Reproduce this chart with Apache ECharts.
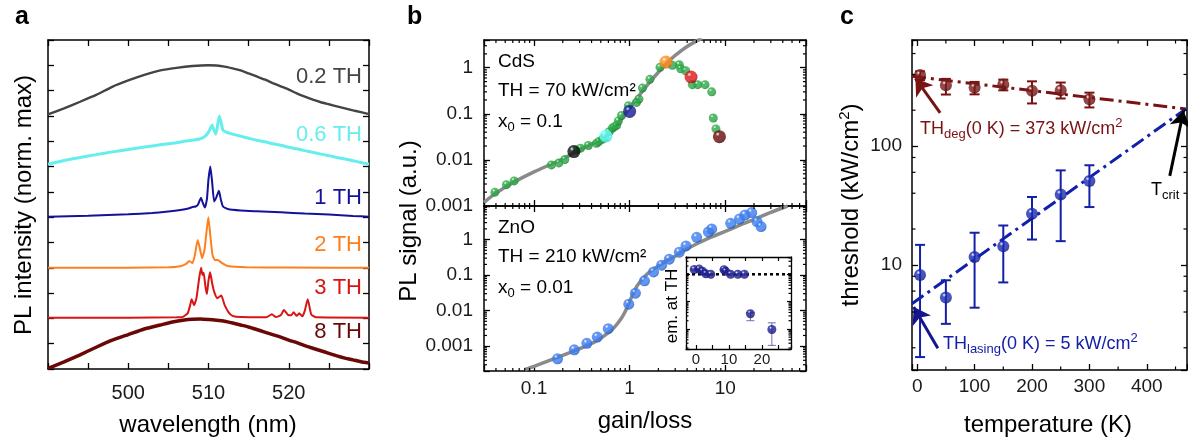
<!DOCTYPE html>
<html><head><meta charset="utf-8">
<script src="https://cdn.jsdelivr.net/npm/echarts@6/dist/echarts.min.js"></script>
<style>html,body{margin:0;padding:0;background:#fff}#c{width:1188px;height:441px}</style>
</head><body><div id="c"></div>
<script>
const FONT = '"Liberation Sans", Arial, Helvetica, sans-serif';

// ---------- Panel a: spectra (wavelength nm, normalized intensity) ----------
const specLabels = ['0.2 TH', '0.6 TH', '1 TH', '2 TH', '3 TH', '8 TH'];
const specOffsets = [5, 4, 3, 2, 1, 0];
const specColors = ['#444444', '#66eeee', '#12129a', '#ff7f1e', '#d81414', '#6a0808'];
const spec02 = [[490,0.03],[492,0.15],[494,0.28],[496,0.415],[498,0.575],[500,0.70],[502,0.81],[504,0.90],[506,0.95],[508,0.985],[510,1.0],[511,0.995],[512,0.975],[513,0.94],[514,0.90],[515,0.84],[516,0.78],[517,0.72],[518,0.65],[519,0.585],[520,0.52],[521,0.445],[522,0.38],[523,0.32],[524,0.27],[525,0.23],[526,0.19],[527,0.15],[528,0.11],[529,0.075],[530,0.035]];
const spec06 = [[490,0.045],[492,0.12],[494,0.18],[496,0.235],[498,0.29],[500,0.335],[502,0.385],[504,0.43],[506,0.47],[507,0.50],[508,0.52],[509,0.55],[509.6,0.60],[510,0.68],[510.3,0.78],[510.45,0.82],[510.6,0.75],[510.9,0.64],[511.1,0.78],[511.35,1.0],[511.55,0.88],[511.8,0.72],[512.2,0.68],[513,0.64],[514,0.60],[515,0.56],[516,0.52],[517,0.49],[518,0.45],[519,0.42],[520,0.38],[521,0.35],[522,0.315],[523,0.28],[524,0.245],[525,0.215],[526,0.18],[527,0.15],[528,0.115],[529,0.08],[530,0.045]];
const spec1 = [[490,0.01],[495,0.03],[500,0.055],[503,0.08],[505,0.11],[506.5,0.14],[507.5,0.17],[508,0.2],[508.4,0.21],[508.7,0.25],[508.9,0.33],[509.07,0.385],[509.25,0.3],[509.55,0.19],[509.8,0.35],[510.0,0.75],[510.23,1.0],[510.45,0.7],[510.7,0.31],[510.95,0.38],[511.3,0.52],[511.55,0.34],[511.8,0.21],[512.4,0.16],[514,0.13],[516,0.115],[519,0.095],[522,0.07],[525,0.05],[528,0.025],[530,0.01]];
const spec2 = [[490,0],[500,0.0],[505,0.01],[506.5,0.03],[507.2,0.075],[507.6,0.135],[508.0,0.09],[508.3,0.25],[508.65,0.55],[508.9,0.4],[509.2,0.19],[509.5,0.35],[509.98,1.0],[510.25,0.6],[510.5,0.25],[510.8,0.15],[511.15,0.155],[511.7,0.09],[512.4,0.035],[514.7,0.01],[520,0.005],[530,0.0]];
const spec3 = [[490,0.015],[500,0.015],[506,0.02],[506.8,0.03],[507.4,0.10],[507.7,0.25],[507.9,0.38],[508.2,0.26],[508.5,0.4],[508.8,0.75],[509.07,1.0],[509.25,0.86],[509.4,0.90],[509.6,0.65],[509.8,0.48],[510.0,0.75],[510.2,0.91],[510.45,0.7],[510.7,0.53],[511.1,0.40],[511.6,0.45],[512.0,0.265],[512.5,0.12],[513.0,0.05],[514,0.025],[517.2,0.02],[517.9,0.08],[518.4,0.025],[519.0,0.06],[519.4,0.165],[519.9,0.07],[520.3,0.06],[520.6,0.12],[521.0,0.05],[521.3,0.1],[521.7,0.04],[522.0,0.15],[522.36,0.38],[522.8,0.08],[523.4,0.02],[530,0.015]];
const spec8 = [[490,0.014],[492,0.14],[494,0.28],[496,0.43],[498,0.57],[500,0.68],[502,0.79],[504,0.87],[505.5,0.93],[507,0.97],[508,0.985],[509,0.99],[510,0.98],[511,0.965],[512,0.945],[513,0.91],[514,0.87],[515,0.83],[516,0.78],[517,0.73],[518,0.68],[519,0.63],[520,0.57],[521,0.52],[522,0.46],[523,0.41],[524,0.36],[525,0.31],[526,0.26],[527,0.215],[528,0.18],[529,0.145],[530,0.12]];
const spectra = [spec02, spec06, spec1, spec2, spec3, spec8];
const specWidths = [2.4, 3, 2, 2, 2, 3.5];

// ---------- Panel b: PL signal vs gain/loss ----------
const cdsX = [0.039,0.0515,0.062,0.152,0.182,0.21,0.28,0.307,0.37,0.45,0.477,0.518,0.55,0.613,0.659,0.69,0.731,0.762,0.824,0.97,1.18,1.25,1.36,1.63,2.08,2.8,3.31,3.42,3.86,4.53,5.15,6.15,7.22,7.5,8.0];
const cdsY = [0.0020,0.0029,0.0035,0.0078,0.0086,0.0102,0.0165,0.018,0.0206,0.023,0.025,0.028,0.031,0.041,0.049,0.052,0.056,0.070,0.092,0.149,0.177,0.21,0.362,0.56,1.02,1.13,1.16,0.95,0.86,0.43,0.43,0.43,0.30,0.081,0.047];
const cdsSpecX = [0.261, 0.565, 1.0, 2.4, 4.39, 8.7];
const cdsSpecY = [0.0152, 0.033, 0.113, 1.33, 0.63, 0.032];
const cdsSpecColors = [['#111111','#000000'],['#66ffff','#33cccc'],['#1a1a9c','#0a0a55'],['#ff8c1a','#c85a00'],['#e01515','#8a0000'],['#6a0a0a','#300000']];
const cdsFitX = [0.03,0.04,0.06,0.1,0.15,0.2,0.3,0.4,0.5,0.6,0.7,0.8,0.9,1.0,1.2,1.5,2,2.5,3,4,5.7];
const cdsFitY = [0.0012,0.0019,0.0032,0.0055,0.0080,0.0105,0.0165,0.022,0.028,0.036,0.050,0.072,0.100,0.135,0.22,0.40,0.80,1.3,1.85,2.9,4.4];
const znoX = [0.176,0.264,0.357,0.459,0.598,0.98,1.15,1.43,1.78,2.16,2.6,3.31,3.89,5.03,6.67,7.22,11.4,14.1,16.1,18.9,21.5,23.7];
const znoY = [0.00044,0.00079,0.0012,0.0018,0.0031,0.0152,0.031,0.069,0.123,0.19,0.28,0.44,0.66,1.16,1.64,1.99,2.87,3.79,4.9,5.73,3.2,2.32];
const znoFitX = [0.08,0.1,0.176,0.3,0.45,0.6,0.7,0.8,0.9,1.0,1.1,1.2,1.4,1.6,2,2.5,3,4,5,7,10,15,20,30,45];
const znoFitY = [0.00022,0.00027,0.00048,0.00085,0.0014,0.0024,0.0035,0.0055,0.0095,0.018,0.032,0.05,0.085,0.12,0.18,0.26,0.34,0.55,0.75,1.15,1.7,2.7,3.7,5.8,8.8];
// inset: emission at TH
const insX = [-0.5,1,2,3,4.5,8.5,9,10.5,12.7,14.7,16.5,23];
const insY = [1.5,1.55,1.3,1.05,1.0,1.48,1.29,1.0,1.0,1.0,0.036,0.0095];
const insLo = [1.4,1.45,1.2,0.97,0.93,1.38,1.2,0.93,0.93,0.93,0.02,0.0025];
const insHi = [1.6,1.65,1.4,1.12,1.07,1.58,1.38,1.07,1.07,1.07,0.04,0.0167];

// ---------- Panel c: threshold vs temperature ----------
const temps = [5, 50, 100, 150, 200, 250, 300];
const degTH = [395, 325, 310, 329, 291, 294, 247];
const degLo = [358, 271, 272, 294, 228, 251, 211];
const degHi = [425, 367, 346, 362, 350, 342, 281];
const lasTH = [8.2, 5.3, 11.6, 14.3, 26.9, 39, 50.6];
const lasLo = [1.67, 3.18, 4.35, 7.1, 16.3, 15.8, 30.6];
const lasHi = [14.7, 7.4, 18.6, 21.4, 37.2, 62.3, 68.8];
const degFit = [[-9, 386], [468, 205]];
const lasFit = [[-9, 4.7], [468, 205]];
const arrowDeg = [[40, 190], [-3, 370]];
const arrowLas = [[36, 1.98], [-6, 4.4]];
const arrowCrit = [[440, 56], [464, 198]];

// tick multipliers for log minor ticks
const logMinor = [2,3,4,5,6,7,8,9];
const logMinorC = [2,4,6,8];

// ---------- helpers ----------
function pow10Label(v) {
  const l = Math.log10(v), r = Math.round(l);
  return Math.abs(l - r) < 1e-6 ? String(+Math.pow(10, r).toFixed(Math.max(0, -r))) : '';
}
function minorVals(mults, decades, min, max) {
  const out = [];
  decades.forEach(d => mults.forEach(m => { const v = +(m * d).toPrecision(6); if (v > min * 1.0001 && v < max * 0.9999) out.push(v); }));
  return out;
}
const LABEL = {color: '#1a1a1a', fontFamily: FONT};
function ax(grid, type, min, max, position, label, extra) {
  const o = {
    type: type, gridIndex: grid, min: min, max: max, position: position,
    axisLine: {show: true, onZero: false, lineStyle: {color: '#000', width: 1.5}},
    axisTick: {show: true, inside: true, length: 6, lineStyle: {color: '#000', width: 1.3}},
    axisLabel: label ? Object.assign({show: true}, LABEL, label) : {show: false},
    splitLine: {show: false}, minorTick: {show: false}, minorSplitLine: {show: false}
  };
  if (type === 'log') o.logBase = 10;
  return Object.assign(o, extra || {});
}
function sphere(c, dark) {
  return {type: 'radial', x: 0.36, y: 0.3, r: 0.75, colorStops: [
    {offset: 0, color: '#ffffff'}, {offset: 0.22, color: c}, {offset: 0.7, color: c}, {offset: 1, color: dark}]};
}
function tickRender(axis, len) {
  return function (params, api) {
    const cs = params.coordSys;
    const p = api.coord([api.value(0), api.value(1)]);
    const st = {stroke: '#000', lineWidth: 1.2};
    if (axis === 'y') return {type: 'group', children: [
      {type: 'line', shape: {x1: cs.x, y1: p[1], x2: cs.x + len, y2: p[1]}, style: st},
      {type: 'line', shape: {x1: cs.x + cs.width - len, y1: p[1], x2: cs.x + cs.width, y2: p[1]}, style: st}]};
    return {type: 'group', children: [
      {type: 'line', shape: {x1: p[0], y1: cs.y, x2: p[0], y2: cs.y + len}, style: st},
      {type: 'line', shape: {x1: p[0], y1: cs.y + cs.height - len, x2: p[0], y2: cs.y + cs.height}, style: st}]};
  };
}
function tickSeries(xi, yi, data, axis, len) {
  return {type: 'custom', xAxisIndex: xi, yAxisIndex: yi, data: data, renderItem: tickRender(axis, len), silent: true, clip: false, z: 6};
}
function errRender(color, cap, lw) {
  return function (params, api) {
    const x = api.value(0);
    const p1 = api.coord([x, api.value(1)]), p2 = api.coord([x, api.value(2)]);
    const st = {stroke: color, lineWidth: lw};
    return {type: 'group', children: [
      {type: 'line', shape: {x1: p1[0], y1: p1[1], x2: p2[0], y2: p2[1]}, style: st},
      {type: 'line', shape: {x1: p1[0] - cap, y1: p1[1], x2: p1[0] + cap, y2: p1[1]}, style: st},
      {type: 'line', shape: {x1: p2[0] - cap, y1: p2[1], x2: p2[0] + cap, y2: p2[1]}, style: st}]};
  };
}
const zip = (a, b) => a.map((v, i) => [v, b[i]]);

// ---------- grids ----------
const grids = [
  {left: 48, top: 40, width: 321, height: 329},
  {left: 484, top: 40, width: 322, height: 166},
  {left: 484, top: 206, width: 322, height: 165},
  {left: 686, top: 257, width: 105, height: 92},
  {left: 912, top: 40, width: 275, height: 330}
].map(g => Object.assign({outerBoundsMode: 'none', containLabel: false}, g));

const bxMin = 0.03, bxMax = 70;
const insTick = {axisTick: {show: true, inside: true, length: 4, lineStyle: {color: '#000', width: 1.2}}, axisLine: {onZero: false, lineStyle: {color: '#000', width: 1.3}}};
const xAxes = [
  ax(0, 'value', 490, 530, 'bottom', {fontSize: 20, margin: 14, formatter: v => (v % 10 === 0 && v > 490 && v < 530) ? String(v) : ''}, {interval: 5}),
  ax(0, 'value', 490, 530, 'top', null, {interval: 5}),
  ax(1, 'log', bxMin, bxMax, 'bottom', null),
  ax(1, 'log', bxMin, bxMax, 'top', null),
  ax(2, 'log', bxMin, bxMax, 'bottom', {fontSize: 19, margin: 8, formatter: pow10Label}),
  ax(2, 'log', bxMin, bxMax, 'top', null),
  ax(3, 'value', -3, 28.8, 'bottom', {fontSize: 15, margin: 3, formatter: v => (v % 10 === 0 && v >= 0 && v <= 20) ? String(v) : ''}, insTick),
  ax(3, 'value', -3, 28.8, 'top', null, insTick),
  ax(4, 'value', -9, 470, 'bottom', {fontSize: 19, margin: 7, formatter: v => (v >= 0 && v <= 400 && v % 100 === 0) ? String(v) : ''}),
  ax(4, 'value', -9, 470, 'top', null)
];
const yAxes = [
  ax(0, 'value', 0, 6.5, 'left', null, {interval: 0.5}),
  ax(0, 'value', 0, 6.5, 'right', null, {interval: 0.5}),
  ax(1, 'log', 0.001, 4, 'left', {fontSize: 19, margin: 11, formatter: pow10Label}),
  ax(1, 'log', 0.001, 4, 'right', null),
  ax(2, 'log', 0.0002, 8.8, 'left', {fontSize: 19, margin: 11, formatter: pow10Label}),
  ax(2, 'log', 0.0002, 8.8, 'right', null),
  ax(3, 'log', 0.00184, 4.3, 'left', null, insTick),
  ax(3, 'log', 0.00184, 4.3, 'right', null, insTick),
  ax(4, 'log', 1.3, 780, 'left', {fontSize: 19, margin: 10, formatter: pow10Label}),
  ax(4, 'log', 1.3, 780, 'right', null)
];

const series = [];
// panel a
spectra.forEach((s, i) => {
  series.push({type: 'line', xAxisIndex: 0, yAxisIndex: 0, data: s.map(p => [p[0], p[1] + specOffsets[i]]),
    symbol: 'none', smooth: 0.15, lineStyle: {color: specColors[i], width: specWidths[i]}, z: 3 + i});
});
// panel b top
series.push({type: 'line', xAxisIndex: 2, yAxisIndex: 2, data: zip(cdsFitX, cdsFitY), symbol: 'none', smooth: 0.3,
  lineStyle: {color: '#8a8a8a', width: 3.5}, z: 2});
series.push({type: 'scatter', xAxisIndex: 2, yAxisIndex: 2, data: zip(cdsX, cdsY), symbolSize: 9,
  itemStyle: {color: sphere('#2aa845', '#176b27')}, z: 3});
series.push({type: 'scatter', xAxisIndex: 2, yAxisIndex: 2, symbolSize: 13, z: 4,
  data: cdsSpecX.map((x, i) => ({value: [x, cdsSpecY[i]], itemStyle: {color: sphere(cdsSpecColors[i][0], cdsSpecColors[i][1])}}))});
// panel b bottom
series.push({type: 'line', xAxisIndex: 4, yAxisIndex: 4, data: zip(znoFitX, znoFitY), symbol: 'none', smooth: 0.3,
  lineStyle: {color: '#8a8a8a', width: 3.5}, z: 2});
series.push({type: 'scatter', xAxisIndex: 4, yAxisIndex: 4, data: zip(znoX, znoY), symbolSize: 11,
  itemStyle: {color: sphere('#3a7cf0', '#1d4fb0')}, z: 3});
// inset
series.push({type: 'line', xAxisIndex: 6, yAxisIndex: 6, data: [[-3, 1], [28.8, 1]], symbol: 'none',
  lineStyle: {color: '#000', width: 2.5, type: [3, 3]}, z: 2});
series.push({type: 'custom', xAxisIndex: 6, yAxisIndex: 6, data: insX.map((x, i) => [x, insLo[i], insHi[i]]),
  renderItem: errRender('#6f6fb0', 4, 1), silent: true, z: 3});
series.push({type: 'scatter', xAxisIndex: 6, yAxisIndex: 6, data: zip(insX, insY), symbolSize: 9,
  itemStyle: {color: sphere('#1d1d8f', '#0b0b50')}, z: 4});
// panel c
const arrowLine = (pair, color) => ({symbol: ['none', 'arrow'], symbolSize: 16, silent: true, label: {show: false},
  lineStyle: {color: color, width: 3, type: 'solid'}, itemStyle: {color: color}, emphasis: {disabled: true},
  data: [[{coord: pair[0]}, {coord: pair[1]}]]});
series.push({type: 'line', xAxisIndex: 8, yAxisIndex: 8, data: degFit, symbol: 'none',
  lineStyle: {color: '#7a1212', width: 3, type: [14, 5, 3, 5]}, z: 2, markLine: arrowLine(arrowDeg, '#7a1212')});
series.push({type: 'line', xAxisIndex: 8, yAxisIndex: 8, data: lasFit, symbol: 'none',
  lineStyle: {color: '#1020aa', width: 3, type: [14, 5, 3, 5]}, z: 2, markLine: arrowLine(arrowLas, '#15158f')});
series.push({type: 'line', xAxisIndex: 8, yAxisIndex: 8, data: [], symbol: 'none', markLine: arrowLine(arrowCrit, '#000000')});
series.push({type: 'custom', xAxisIndex: 8, yAxisIndex: 8, data: temps.map((t, i) => [t, degLo[i], degHi[i]]),
  renderItem: errRender('#7a1212', 5, 2), silent: true, z: 3});
series.push({type: 'custom', xAxisIndex: 8, yAxisIndex: 8, data: temps.map((t, i) => [t, lasLo[i], lasHi[i]]),
  renderItem: errRender('#1520a8', 5, 2), silent: true, z: 3});
series.push({type: 'scatter', xAxisIndex: 8, yAxisIndex: 8, data: zip(temps, degTH), symbolSize: 12,
  itemStyle: {color: sphere('#7a1a1a', '#450808')}, z: 4});
series.push({type: 'scatter', xAxisIndex: 8, yAxisIndex: 8, data: zip(temps, lasTH), symbolSize: 12,
  itemStyle: {color: sphere('#1a2ab0', '#0b1266')}, z: 4});
// minor ticks (log axes + panel c x)
const bxMinor = minorVals(logMinor, [0.01, 0.1, 1, 10], bxMin, bxMax);
series.push(tickSeries(2, 2, bxMinor.map(v => [v, 0.01]), 'x', 3));
series.push(tickSeries(4, 4, bxMinor.map(v => [v, 0.01]), 'x', 3));
series.push(tickSeries(2, 2, minorVals(logMinor, [0.001, 0.01, 0.1, 1], 0.001, 4).map(v => [1, v]), 'y', 3));
series.push(tickSeries(4, 4, minorVals(logMinor, [0.0001, 0.001, 0.01, 0.1, 1], 0.0002, 8.8).map(v => [1, v]), 'y', 3));
series.push(tickSeries(6, 6, minorVals(logMinor, [0.001, 0.01, 0.1, 1], 0.00184, 4.3).map(v => [10, v]), 'y', 2.5));
series.push(tickSeries(8, 8, minorVals(logMinorC, [1, 10, 100], 1.3, 780).map(v => [100, v]), 'y', 3.5));
series.push(tickSeries(8, 8, [50, 150, 250, 350, 450].map(v => [v, 10]), 'x', 3.5));

// ---------- texts ----------
const T = (x, y, text, size, opts) => Object.assign({type: 'text', x: x, y: y, z: 100, silent: true,
  style: Object.assign({text: text, fontSize: size, fontFamily: FONT, fill: '#000', align: 'left', verticalAlign: 'middle'}, (opts && opts.style) || {})},
  opts ? {rotation: opts.rotation || 0} : {});
const subR = (fs) => ({sub: {fontSize: fs, fontFamily: FONT, padding: [Math.round(fs * 0.85), 0, 0, 0]}, sup: {fontSize: fs, fontFamily: FONT, padding: [0, 0, Math.round(fs * 0.85), 0]}});
const graphics = [
  T(15, 17, 'a', 25, {style: {fontWeight: 'bold'}}),
  T(407, 17, 'b', 25, {style: {fontWeight: 'bold'}}),
  T(840, 17, 'c', 25, {style: {fontWeight: 'bold'}}),
  T(24, 205, 'PL intensity (norm. max)', 24, {rotation: Math.PI / 2, style: {align: 'center'}}),
  T(208, 425, 'wavelength (nm)', 24, {style: {align: 'center'}}),
  T(409, 221, 'PL signal (a.u.)', 24, {rotation: Math.PI / 2, style: {align: 'center'}}),
  T(645, 421, 'gain/loss', 24, {style: {align: 'center'}}),
  T(851, 205, '{n|threshold (kW/cm}{sup|2}{n|)}', 24, {rotation: Math.PI / 2, style: {align: 'center', rich: Object.assign({n: {fontSize: 24, fontFamily: FONT}}, subR(15))}}),
  T(1048, 425, 'temperature (K)', 24, {style: {align: 'center'}}),
  T(672, 306, 'em. at TH', 17, {rotation: Math.PI / 2, style: {align: 'center'}}),
  T(498, 62, 'CdS', 19),
  T(498, 91, 'TH = 70 kW/cm²', 19),
  T(498, 122, '{n|x}{sub|0}{n| = 0.1}', 19, {style: {rich: Object.assign({n: {fontSize: 19, fontFamily: FONT}}, subR(13))}}),
  T(498, 228, 'ZnO', 19),
  T(498, 257, 'TH = 210 kW/cm²', 19),
  T(498, 288, '{n|x}{sub|0}{n| = 0.01}', 19, {style: {rich: Object.assign({n: {fontSize: 19, fontFamily: FONT}}, subR(13))}}),
  T(920, 129, '{n|TH}{sub|deg}{n|(0 K) = 373 kW/cm}{sup|2}', 18, {style: {fill: '#7a1212', rich: Object.assign({n: {fontSize: 18, fontFamily: FONT}}, subR(13))}}),
  T(943, 344, '{n|TH}{sub|lasing}{n|(0 K) = 5 kW/cm}{sup|2}', 18, {style: {fill: '#1520a8', rich: Object.assign({n: {fontSize: 18, fontFamily: FONT}}, subR(13))}}),
  T(1151, 190, '{n|T}{sub|crit}', 18, {style: {rich: Object.assign({n: {fontSize: 18, fontFamily: FONT}}, subR(13))}})
];
const labelYs = [77, 135, 198, 245, 288, 332];
specLabels.forEach((s, i) => graphics.push(T(362, labelYs[i], s, 22, {style: {align: 'right', fill: specColors[i]}})));

const chart = echarts.init(document.getElementById('c'), null, {renderer: 'canvas'});
chart.setOption({
  animation: false,
  backgroundColor: '#ffffff',
  textStyle: {fontFamily: FONT},
  grid: grids, xAxis: xAxes, yAxis: yAxes, series: series, graphic: graphics
});
</script></body></html>
